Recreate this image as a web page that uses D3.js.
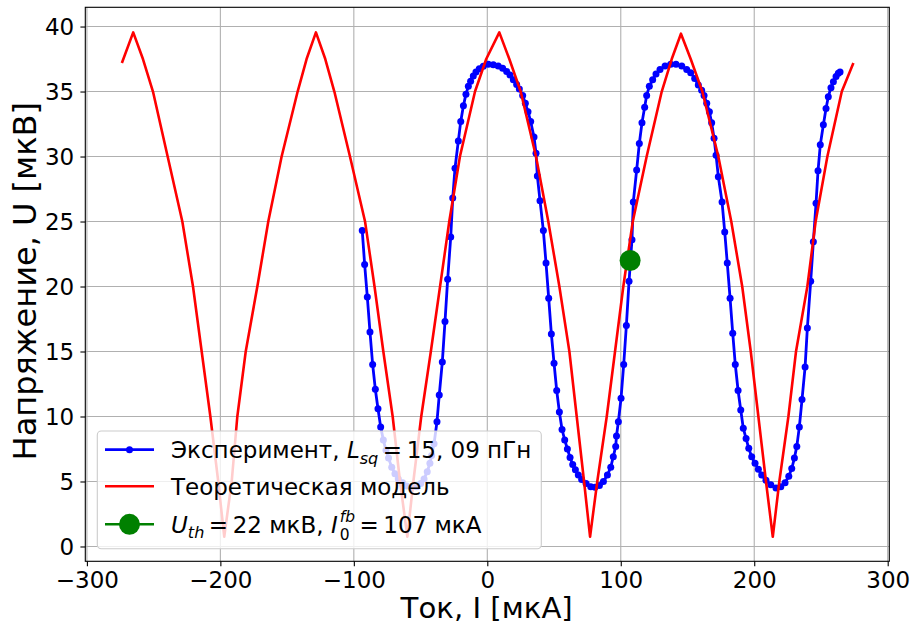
<!DOCTYPE html>
<html>
<head>
<meta charset="utf-8">
<script src="https://cdn.jsdelivr.net/npm/d3@7"></script>
<style>
  html, body { margin: 0; padding: 0; background: #ffffff; }
  svg { display: block; font-family: "DejaVu Sans", sans-serif; }
</style>
</head>
<body>
<svg id="chart" width="912" height="627"></svg>
<script>
// Measured SQUID voltage vs. bias current (experiment)
const expI = [-93.7,-91.9,-89.9,-87.9,-85.9,-83.9,-81.9,-79.9,-77.9,-75.9,-74.0,-71.6,-69.2,-66.7,-63.4,-60.4,-56.7,-52.9,-49.9,-47.4,-45.0,-43.0,-41.7,-39.9,
  -37.7,-36.0,-33.7,-31.7,-29.7,-27.4,-25.9,-24.2,-21.7,-19.9,-17.9,-16.0,-14.2,-12.5,-10.5,-8.5,-6.0,-3.0,0.7,4.5,8.2,11.5,14.5,17.0,19.5,22.0,24.0,26.5,28.5,30.5,32.5,35.0,36.5,37.5,39.5,
  42.0,44.0,46.0,48.0,50.0,52.0,54.0,56.0,58.0,60.0,62.0,64.0,66.0,68.2,70.7,74.0,77.5,80.7,84.0,87.0,90.0,92.5,94.4,96.2,96.8,98.2,100.2,102.2,104.2,106.2,108.4,109.4,
  111.9,113.9,115.9,117.9,119.4,121.4,123.9,126.4,129.4,133.2,137.4,141.4,145.7,149.4,152.4,155.4,158.1,160.6,162.4,164.4,166.4,168.1,169.9,171.4,173.1,175.9,
  177.9,179.8,181.9,183.9,185.8,187.9,189.9,191.8,193.9,195.9,198.1,200.6,203.1,205.6,208.8,212.4,216.3,219.9,223.1,225.9,228.1,230.1,231.9,233.8,235.8,238.1,239.8,242.3,244.3,246.3,
  247.8,249.5,251.8,253.8,255.5,257.5,259.3,261.3,263.0,264.3];
const expU = [24.3,21.7,19.2,16.5,14.0,12.1,10.6,9.2,8.2,7.4,6.8,6.1,5.6,5.2,4.9,4.65,4.55,4.6,4.85,5.2,5.75,6.4,7.0,7.9,
  9.6,11.65,14.2,17.3,20.55,23.8,26.8,29.1,31.2,32.7,33.9,34.8,35.4,35.8,36.2,36.5,36.75,36.95,37.1,37.06,36.96,36.8,36.55,36.27,35.9,35.55,35.2,34.7,34.1,33.45,32.7,31.5,30.25,28.5,26.6,
  24.3,21.8,19.1,16.35,14.1,12.0,10.35,9.0,8.2,7.5,6.85,6.3,5.9,5.5,5.15,4.85,4.6,4.55,4.7,5.0,5.5,6.1,6.9,7.7,8.5,9.6,11.4,14.0,17.0,20.4,23.6,26.5,
  28.96,31.0,32.6,33.8,34.7,35.4,35.9,36.35,36.7,36.96,37.1,37.1,36.96,36.7,36.45,36.0,35.5,35.1,34.7,34.1,33.45,32.6,31.4,30.1,28.45,26.5,
  24.2,21.8,19.1,16.4,14.0,12.0,10.5,9.1,8.3,7.55,6.9,6.4,5.95,5.5,5.1,4.75,4.5,4.6,4.9,5.4,6.0,6.8,7.7,9.2,11.3,13.8,16.8,20.4,23.45,26.4,
  28.9,30.9,32.45,33.7,34.6,35.3,35.75,36.15,36.4,36.5];

// Theoretical model curve
const theoryI = [-273.8,-265.3,-258.0,-250.5,-239.5,-228.5,-220.5,-214.0,-207.5,-201.6,-197.1,-191.5,-187.3,-181.0,-172.3,-164.1,-154.1,-142.1,-135.4,-128.4,
  -121.4,-114.6,-102.9,-91.6,-84.5,-77.9,-70.9,-65.4,-59.9,-55.4,-49.5,-42.3,-35.4,-28.5,-20.5,-9.2,-0.8,9.0,
  16.5,25.0,36.5,45.7,54.0,61.5,67.0,72.5,77.0,82.4,89.5,95.7,101.9,109.0,119.4,130.7,138.2,145.1,
  152.4,161.1,173.1,182.8,191.0,197.4,203.1,208.8,213.9,218.8,225.6,231.3,239.8,246.0,254.8,265.6,274.3];
const theoryU = [37.2,39.55,37.5,35.0,30.0,25.0,20.0,15.0,10.0,5.0,0.75,5.0,10.0,15.0,20.0,25.0,30.0,35.0,37.5,39.55,
  37.5,35.0,30.0,25.0,20.0,15.0,10.0,5.0,0.75,5.0,10.0,15.0,20.0,25.0,30.0,35.0,37.5,39.55,
  37.5,35.0,30.0,25.0,20.0,15.0,10.0,5.0,0.75,5.0,10.0,15.0,20.0,25.0,30.0,35.0,37.5,39.45,
  37.5,35.0,30.0,25.0,20.0,15.0,10.0,5.0,0.75,5.0,10.0,15.0,20.0,25.0,30.0,35.0,37.2];

// Threshold working point
const thresholdI = [107];
const thresholdU = [22];

const xTicks = [-300, -200, -100, 0, 100, 200, 300];
const yTicks = [0, 5, 10, 15, 20, 25, 30, 35, 40];

const xLabel = "Ток, I [мкА]";
const yLabel = "Напряжение, U [мкВ]";

const svg = d3.select("#chart");
const W = 912, H = 627;
const plot = { left: 85.3, right: 889.3, top: 7.3, bottom: 561.3 };

const x = d3.scaleLinear().domain([-301.2, 301.2]).range([plot.left, plot.right]);
const y = d3.scaleLinear().domain([-1.14, 41.48]).range([plot.bottom, plot.top]);

svg.append("rect").attr("width", W).attr("height", H).attr("fill", "#ffffff");

// grid
const grid = svg.append("g").attr("stroke", "#b0b0b0").attr("stroke-width", 1.1);
grid.selectAll("line.gx").data(xTicks).join("line")
  .attr("x1", d => x(d)).attr("x2", d => x(d))
  .attr("y1", plot.top).attr("y2", plot.bottom);
grid.selectAll("line.gy").data(yTicks).join("line")
  .attr("x1", plot.left).attr("x2", plot.right)
  .attr("y1", d => y(d)).attr("y2", d => y(d));

// axes
const fmt = d3.format("d");
const tickFs = "23px";
const xAxis = svg.append("g").attr("transform", `translate(0,${plot.bottom})`)
  .call(d3.axisBottom(x).tickValues(xTicks).tickSize(4.9).tickSizeOuter(0).tickPadding(5.5).tickFormat(fmt));
const yAxis = svg.append("g").attr("transform", `translate(${plot.left},0)`)
  .call(d3.axisLeft(y).tickValues(yTicks).tickSize(4.9).tickSizeOuter(0).tickPadding(6.2).tickFormat(fmt));
[xAxis, yAxis].forEach(a => {
  a.select(".domain").remove();
  a.selectAll(".tick line").attr("stroke", "#000").attr("stroke-width", 1.1);
  a.selectAll(".tick text").attr("fill", "#000").style("font-size", tickFs).style("font-family", "DejaVu Sans");
});
xAxis.selectAll(".tick text").attr("dy", "0.73em");
yAxis.selectAll(".tick text").attr("dy", "0.36em");

// data clip
svg.append("clipPath").attr("id", "clip").append("rect")
  .attr("x", plot.left).attr("y", plot.top)
  .attr("width", plot.right - plot.left).attr("height", plot.bottom - plot.top);
const layer = svg.append("g").attr("clip-path", "url(#clip)");

const expPts = expI.map((v, i) => [v, expU[i]]);
const thPts = theoryI.map((v, i) => [v, theoryU[i]]);
const line = d3.line().x(d => x(d[0])).y(d => y(d[1]));

layer.append("path").datum(expPts).attr("d", line)
  .attr("fill", "none").attr("stroke", "#0000ff").attr("stroke-width", 2.8).attr("stroke-linejoin", "round");
layer.selectAll("circle.exp").data(expPts).join("circle")
  .attr("class", "exp").attr("cx", d => x(d[0])).attr("cy", d => y(d[1])).attr("r", 3.5).attr("fill", "#0000ff");

layer.append("path").datum(thPts).attr("d", line)
  .attr("fill", "none").attr("stroke", "#ff0000").attr("stroke-width", 2.6).attr("stroke-linejoin", "round");

layer.selectAll("circle.th").data(thresholdI.map((v, i) => [v, thresholdU[i]])).join("circle")
  .attr("class", "th").attr("cx", d => x(d[0])).attr("cy", d => y(d[1])).attr("r", 10.5).attr("fill", "#008000");

// frame
svg.append("rect").attr("x", plot.left).attr("y", plot.top)
  .attr("width", plot.right - plot.left).attr("height", plot.bottom - plot.top)
  .attr("fill", "none").attr("stroke", "#000").attr("stroke-width", 1.1);

// axis labels
svg.append("text").attr("x", 486.7).attr("y", 618.3).attr("text-anchor", "middle")
  .style("font-size", "29.2px").attr("fill", "#000").text(xLabel);
svg.append("text").attr("transform", "translate(36,281.2) rotate(-90)").attr("text-anchor", "middle")
  .style("font-size", "32px").attr("fill", "#000").text(yLabel);

// legend
const lg = svg.append("g");
lg.append("rect").attr("x", 97.3).attr("y", 431).attr("width", 444).attr("height", 117.7)
  .attr("rx", 4).attr("fill", "#ffffff").attr("fill-opacity", 0.8)
  .attr("stroke", "#cccccc").attr("stroke-width", 1.1);

const rows = [449.7, 486.3, 524.3];
const hx0 = 105, hx1 = 154, tx = 171, fs = 23;

lg.append("line").attr("x1", hx0).attr("x2", hx1).attr("y1", rows[0]).attr("y2", rows[0])
  .attr("stroke", "#0000ff").attr("stroke-width", 2.8);
lg.append("circle").attr("cx", (hx0 + hx1) / 2).attr("cy", rows[0]).attr("r", 3.5).attr("fill", "#0000ff");
lg.append("line").attr("x1", hx0).attr("x2", hx1).attr("y1", rows[1]).attr("y2", rows[1])
  .attr("stroke", "#ff0000").attr("stroke-width", 2.6);
lg.append("line").attr("x1", hx0).attr("x2", hx1).attr("y1", rows[2]).attr("y2", rows[2])
  .attr("stroke", "#008000").attr("stroke-width", 2.6);
lg.append("circle").attr("cx", (hx0 + hx1) / 2).attr("cy", rows[2]).attr("r", 10.5).attr("fill", "#008000");

// One legend line as a single <text>: each piece is a tspan placed at a
// measured x, with optional baseline shift (sub/superscript) and italics.
// Pieces marked stack:"start"/"end" share one x (superscript over subscript).
function richText(g, x0, baseline, pieces) {
  const t = g.append("text").attr("fill", "#000").attr("xml:space", "preserve");
  let cx = x0, stackStart = null, stackW = 0;
  pieces.forEach(p => {
    const ts = t.append("tspan")
      .attr("y", baseline + (p.shift || 0))
      .style("font-size", (p.size || fs) + "px")
      .style("font-style", p.italic ? "italic" : "normal")
      .text(p.t);
    if (p.stack === "start") {
      stackStart = cx + (p.dx || 0);
      ts.attr("x", stackStart);
      stackW = ts.node().getComputedTextLength();
      return;
    }
    if (p.stack === "end") {
      ts.attr("x", stackStart);
      const w = ts.node().getComputedTextLength();
      cx = stackStart + Math.max(stackW, w) + (p.gap || 0);
      return;
    }
    ts.attr("x", cx + (p.dx || 0));
    cx += (p.dx || 0) + ts.node().getComputedTextLength() + (p.gap || 0);
  });
  return t;
}

const sub = fs * 0.7;
const stackSize = 15.5;
richText(lg, tx, rows[0] + 8.3, [
  { t: "Эксперимент, " },
  { t: "L", italic: true },
  { t: "sq", italic: true, size: sub, shift: 5.5, gap: 4.5 },
  { t: "=", gap: 4.5 },
  { t: "15, 09 пГн" }
]);
richText(lg, tx, rows[1] + 8.3, [{ t: "Теоретическая модель" }]);
richText(lg, tx, rows[2] + 8.3, [
  { t: "U", italic: true },
  { t: "th", italic: true, size: sub, shift: 5.5, gap: 4.5 },
  { t: "=", gap: 4.5 },
  { t: "22 мкВ, " },
  { t: "I", italic: true, gap: 1 },
  { t: "fb", italic: true, size: stackSize, shift: -10.5, stack: "start", dx: 1 },
  { t: "0", size: stackSize, shift: 7.6, stack: "end", gap: 4.5 },
  { t: "=", gap: 4.5 },
  { t: "107 мкА" }
]);
</script>
</body>
</html>
